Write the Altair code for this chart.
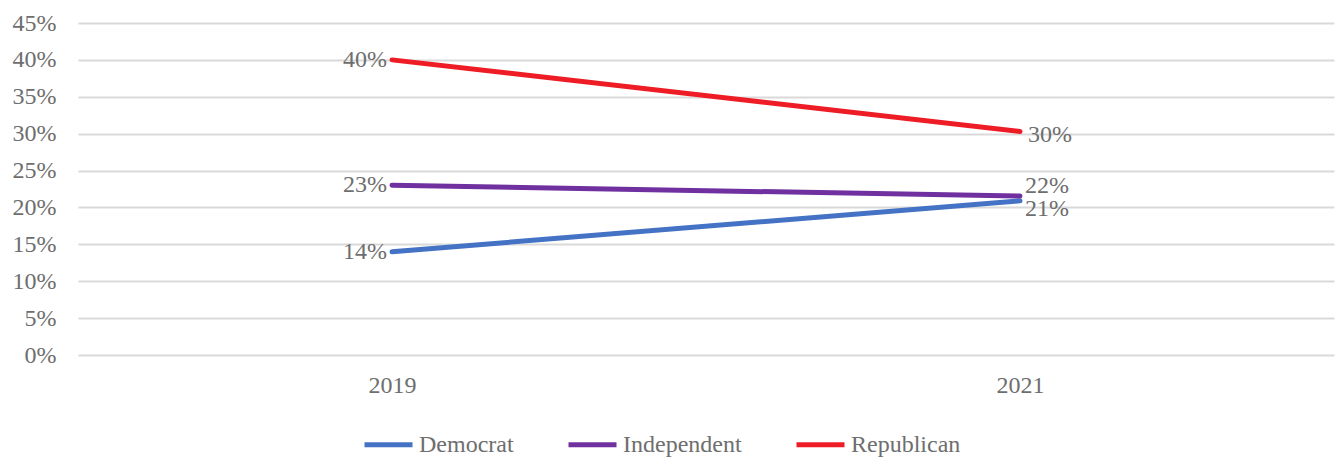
import altair as alt
import pandas as pd

years = ["2019", "2021"]
parties = ["Democrat", "Independent", "Republican"]
democrat = [0.14, 0.209]
independent = [0.23, 0.2155]
republican = [0.40, 0.303]
colors = ["#4472C4", "#7030A0", "#EE1C25"]

rows = []
for p, vals in zip(parties, [democrat, independent, republican]):
    for y, v in zip(years, vals):
        rows.append({"year": y, "party": p, "value": v})
df = pd.DataFrame(rows)

FONT = "Liberation Serif"
GRAY = "#6e6e6e"
FS = 24

x = alt.X("year:N", sort=years, title=None,
          scale=alt.Scale(type="point", padding=0.5),
          axis=alt.Axis(labelAngle=0, domain=False, ticks=False, grid=False,
                        labelPadding=18, labelFontSize=FS, labelColor=GRAY, labelFont=FONT))
y = alt.Y("value:Q", title=None,
          scale=alt.Scale(domain=[0, 0.45], nice=False),
          axis=alt.Axis(format=".0%", values=[i * 0.05 for i in range(10)],
                        domain=False, ticks=False, labelPadding=22, labelFontSize=FS,
                        labelColor=GRAY, labelFont=FONT, gridColor="#d9d9d9", gridWidth=2))

base = alt.Chart(df)

lines = base.mark_line(strokeWidth=5, strokeCap="round").encode(
    x=x, y=y,
    color=alt.Color("party:N", sort=parties,
                    scale=alt.Scale(domain=parties, range=colors),
                    legend=alt.Legend(title=None, orient="none", direction="horizontal",
                                      legendX=284, legendY=395,
                                      symbolType="stroke", symbolStrokeWidth=5, symbolSize=2304,
                                      labelFontSize=FS, labelColor=GRAY, labelFont=FONT,
                                      labelOffset=4, columnPadding=44)),
)

def label(data_filter, align, dx, dy):
    return base.transform_filter(data_filter).mark_text(
        align=align, baseline="middle", dx=dx, dy=dy, fontSize=FS, font=FONT, color=GRAY
    ).encode(x=x, y=y, text=alt.Text("value:Q", format=".0%"))

labels = [
    label(alt.datum.year == "2019", "right", -5, 0),
    label((alt.datum.year == "2021") & (alt.datum.party == "Republican"), "left", 8, 4),
    label((alt.datum.year == "2021") & (alt.datum.party == "Independent"), "left", 5, -10),
    label((alt.datum.year == "2021") & (alt.datum.party == "Democrat"), "left", 5, 8),
]

chart = alt.layer(lines, *labels).properties(
    width=1256, height=332,
    background="white",
    autosize=alt.AutoSizeParams(type="none"),
    padding={"left": 78, "top": 23, "right": 1, "bottom": 103},
).configure_view(stroke=None)

chart.save("out.html", embed_options={"renderer": "svg", "actions": False})
